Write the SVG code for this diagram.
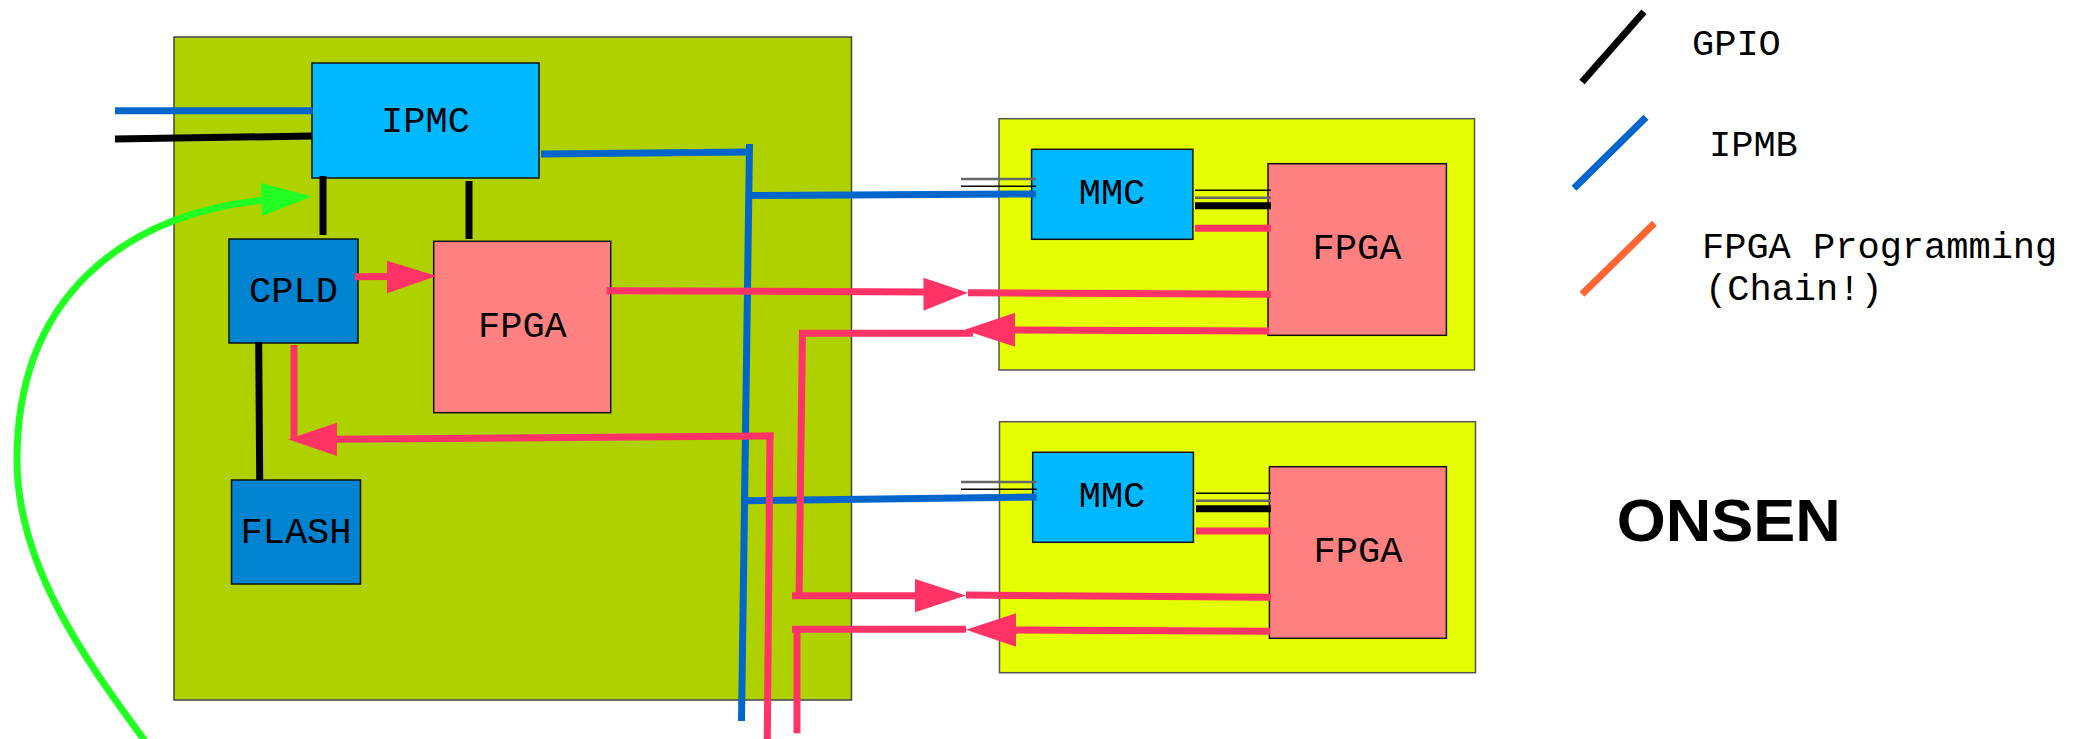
<svg xmlns="http://www.w3.org/2000/svg" width="2076" height="739" viewBox="0 0 2076 739">
<style>
.board{fill:#AFD100;stroke:#444;stroke-width:1.5}
.yboard{fill:#E5FF00;stroke:#555;stroke-width:1.5}
.ctrl{fill:#00B8FF;stroke:#111;stroke-width:1.5}
.chip{fill:#0083D0;stroke:#111;stroke-width:1.5}
.fpga{fill:#FF8080;stroke:#111;stroke-width:1.5}
.lbl{font-family:"Liberation Mono","DejaVu Sans Mono",monospace;font-size:37px;fill:#000;text-anchor:middle}
.leg{font-family:"Liberation Mono","DejaVu Sans Mono",monospace;font-size:37px;fill:#000}
.blue{stroke:#0066CC;stroke-width:7;fill:none}
.blk{stroke:#000;stroke-width:7;fill:none}
.pink{stroke:#FF3366;stroke-width:7;fill:none}
.thinb{stroke:#000;stroke-width:1.5;fill:none}
.thing{stroke:#666;stroke-width:2.5;fill:none}
.ph{fill:#FF3366}
</style>
<rect width="2076" height="739" fill="#fff"/>
<g id="main-board"><rect class="board" x="174" y="37" width="677.5" height="663"/></g>
<g id="board-1"><rect class="yboard" x="999" y="118.7" width="475.5" height="251.3"/></g>
<g id="board-2"><rect class="yboard" x="999.5" y="421.7" width="476" height="251"/></g>
<g id="ipmc"><rect class="ctrl" x="312" y="63" width="227" height="115"/><text class="lbl" x="425.5" y="131.5">IPMC</text></g>
<g id="cpld"><rect class="chip" x="229" y="239" width="129" height="104"/><text class="lbl" x="293.5" y="301.5">CPLD</text></g>
<g id="flash"><rect class="chip" x="231.5" y="480" width="129" height="104"/><text class="lbl" x="296" y="542.5">FLASH</text></g>
<g id="fpga-main"><rect class="fpga" x="433.7" y="241.3" width="177" height="171.4"/><text class="lbl" x="522.4" y="336.5">FPGA</text></g>
<g id="mmc-1"><rect class="ctrl" x="1031.6" y="149.3" width="161.3" height="90"/><text class="lbl" x="1112" y="204.3">MMC</text></g>
<g id="fpga-1"><rect class="fpga" x="1268" y="163.7" width="178.4" height="171.6"/><text class="lbl" x="1357" y="259.3">FPGA</text></g>
<g id="mmc-2"><rect class="ctrl" x="1032.7" y="452.3" width="160.7" height="90"/><text class="lbl" x="1112" y="507.3">MMC</text></g>
<g id="fpga-2"><rect class="fpga" x="1269.4" y="466.7" width="177" height="171.6"/><text class="lbl" x="1358" y="562.3">FPGA</text></g>
<g id="connectors">
<path class="blue" d="M115,110.7 L312,110.7"/>
<path class="blk" d="M115,139 L312,136"/>
<path class="blue" d="M541,154 L749.5,152"/>
<path class="blue" d="M749.5,144 L741.5,721"/>
<path class="blue" d="M748,195.5 L1036,194"/>
<path class="blue" d="M744,500.7 L1036.7,497"/>
<path class="thing" d="M961,179 L1036,179"/>
<path class="thinb" d="M961,186.3 L1036,186.3"/>
<path class="thing" d="M961,482 L1036.7,482"/>
<path class="thinb" d="M961,489.3 L1036.7,489.3"/>
<path class="thinb" d="M1195,190.3 L1271,190.3"/>
<path class="thing" d="M1195,197.7 L1271,197.7"/>
<path class="blk" d="M1195,205.7 L1271,205.7"/>
<path class="pink" d="M1195,228.3 L1271,228.3"/>
<path class="thinb" d="M1196,493.3 L1271,493.3"/>
<path class="thing" d="M1196,500.7 L1271,500.7"/>
<path class="blk" d="M1196,508.7 L1271,508.7"/>
<path class="pink" d="M1196,531 L1271,531"/>
<path class="blk" d="M323,176 L323,235"/>
<path class="blk" d="M469,181 L469,239"/>
<path class="blk" d="M258.7,342 L259.7,480"/>
<path class="pink" d="M355,276.7 L390,276.5"/>
<polygon class="ph" points="387,260.7 436.7,276 387,293.3"/>
<path class="pink" d="M606.6,290.7 L925,292"/>
<polygon class="ph" points="923.5,277.7 968,292.7 923.5,310.7"/>
<path class="pink" d="M968,292.7 L1271,294.3"/>
<path class="pink" d="M1269,331 L1013,330"/>
<polygon class="ph" points="1015,312.7 964,330 1015,346.7"/>
<path class="pink" d="M973,333.3 L799,333.3"/>
<path class="pink" d="M802.5,330 L799,598"/>
<path class="pink" d="M792,595.7 L918,595.7"/>
<polygon class="ph" points="915,579 966,595.5 915,612.3"/>
<path class="pink" d="M966,595 L1271,597.3"/>
<path class="pink" d="M1270,631.3 L1014,630"/>
<polygon class="ph" points="1016,613.3 966,629.7 1016,646.7"/>
<path class="pink" d="M966,629.3 L792,629.3"/>
<path class="pink" d="M797,626 L797,733.3"/>
<path class="pink" d="M770,432.5 L767.3,739"/>
<path class="pink" d="M773.5,436 L335,439.3"/>
<polygon class="ph" points="337,422.7 288,439.3 337,456"/>
<path class="pink" d="M294,345 L294,438"/>
<path d="M145,741 C92,668 17,570 17,460 C17,300 120,215 264,200" stroke="#22FF22" stroke-width="7" fill="none"/>
<polygon fill="#22FF22" points="261,183 312,196.5 262,216"/>
</g>
<g id="legend">
<path class="blk" d="M1582,82 L1644,11.7"/>
<path class="blue" d="M1574,188.3 L1646,117.3"/>
<path stroke="#FF6633" stroke-width="7" fill="none" d="M1582,294.3 L1654.4,223.3"/>
<text class="leg" x="1692" y="55">GPIO</text>
<text class="leg" x="1709" y="155.7">IPMB</text>
<text class="leg" x="1702" y="258.3">FPGA Programming</text>
<text class="leg" x="1705" y="300">(Chain!)</text>
</g>
<g id="title"><text x="1616.7" y="540.7" font-family="Liberation Sans, Arial, sans-serif" font-weight="900" font-size="59" textLength="224" lengthAdjust="spacingAndGlyphs">ONSEN</text></g>
</svg>
